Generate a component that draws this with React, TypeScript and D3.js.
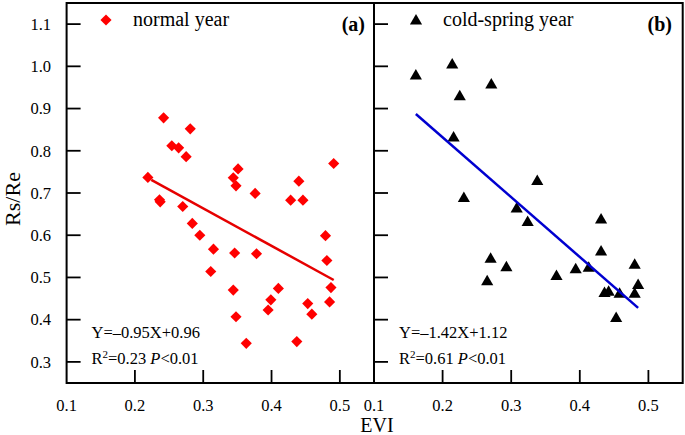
import React from "react";
import * as d3 from "d3";

const normalEVI = [0.219, 0.242, 0.254, 0.264, 0.275, 0.281, 0.236, 0.237, 0.27, 0.344, 0.351, 0.348, 0.376, 0.428, 0.44, 0.446, 0.491, 0.284, 0.295, 0.315, 0.311, 0.346, 0.344, 0.348, 0.363, 0.378, 0.399, 0.395, 0.41, 0.437, 0.453, 0.459, 0.479, 0.481, 0.487, 0.485];
const normalRatio = [0.737, 0.878, 0.812, 0.807, 0.786, 0.852, 0.684, 0.679, 0.668, 0.736, 0.757, 0.717, 0.699, 0.683, 0.728, 0.683, 0.77, 0.628, 0.6, 0.567, 0.514, 0.558, 0.47, 0.407, 0.344, 0.556, 0.447, 0.423, 0.474, 0.348, 0.438, 0.413, 0.599, 0.54, 0.476, 0.442];

const coldEVI = [0.161, 0.214, 0.225, 0.271, 0.216, 0.338, 0.231, 0.308, 0.324, 0.431, 0.431, 0.27, 0.293, 0.265, 0.366, 0.394, 0.413, 0.436, 0.442, 0.458, 0.453, 0.48, 0.485, 0.48];
const coldRatio = [0.977, 1.003, 0.928, 0.956, 0.83, 0.727, 0.687, 0.662, 0.63, 0.636, 0.56, 0.543, 0.523, 0.49, 0.502, 0.518, 0.522, 0.462, 0.465, 0.46, 0.403, 0.529, 0.481, 0.46];

const normalFitX = [0.224, 0.491];
const normalFitY = [0.731, 0.494];
const coldFitX = [0.161, 0.485];
const coldFitY = [0.887, 0.428];

const xTicks = [0.1, 0.2, 0.3, 0.4, 0.5];
const yTicks = [0.3, 0.4, 0.5, 0.6, 0.7, 0.8, 0.9, 1.0, 1.1];

const FONT = "'Liberation Serif', 'Times New Roman', serif";

export default function App() {
  const y = d3.scaleLinear().domain([0.25, 1.15]).range([383, 3]);
  const xA = d3.scaleLinear().domain([0.1, 0.55]).range([66.6, 374]);
  const xB = d3.scaleLinear().domain([0.1, 0.55]).range([374, 682.7]);

  const diamond = d3.symbol().type(d3.symbolSquare).size(62)()!;
  const triangle = d3.symbol().type(d3.symbolTriangle).size(64)()!;
  const line = d3.line<[number, number]>();

  const fitA: [number, number][] = normalFitX.map((v, i) => [xA(v), y(normalFitY[i])]);
  const fitB: [number, number][] = coldFitX.map((v, i) => [xB(v), y(coldFitY[i])]);

  const panel = (x: d3.ScaleLinear<number, number>, key: string) => (
    <g key={key}>
      {yTicks.map((t) => (
        <line key={"y" + t} x1={x.range()[0]} x2={x.range()[0] + 14} y1={y(t)} y2={y(t)} stroke="#000" strokeWidth={1.8} />
      ))}
      {xTicks.slice(1).map((t) => (
        <line key={"x" + t} x1={x(t)} x2={x(t)} y1={383} y2={370} stroke="#000" strokeWidth={1.8} />
      ))}
      {xTicks.map((t) => (
        <text key={"xl" + t} x={x(t)} y={411} textAnchor="middle" fontSize={16.5} fontFamily={FONT}>
          {t.toFixed(1)}
        </text>
      ))}
    </g>
  );

  return (
    <svg width={685} height={435} style={{ position: "absolute", left: 0, top: 0, display: "block", background: "#fff" }}>
      <rect x={0} y={0} width={685} height={435} fill="#fff" />
      {panel(xA, "a")}
      {panel(xB, "b")}
      {yTicks.map((t) => (
        <text key={"yl" + t} x={51} y={y(t)} dy="0.35em" textAnchor="end" fontSize={16.5} fontFamily={FONT}>
          {t.toFixed(1)}
        </text>
      ))}

      {normalEVI.map((v, i) => (
        <path key={"n" + i} d={diamond} transform={`translate(${xA(v)},${y(normalRatio[i])}) rotate(45)`} fill="#ff0000" />
      ))}
      <path d={line(fitA)!} stroke="#e60000" strokeWidth={2.5} fill="none" />

      {coldEVI.map((v, i) => (
        <path key={"c" + i} d={triangle} transform={`translate(${xB(v)},${y(coldRatio[i])})`} fill="#000" />
      ))}
      <path d={line(fitB)!} stroke="#0000d0" strokeWidth={2.5} fill="none" />

      <rect x={66.6} y={3} width={616.1} height={380} fill="none" stroke="#000" strokeWidth={2} />
      <line x1={374} x2={374} y1={3} y2={383} stroke="#000" strokeWidth={2} />

      {/* legends */}
      <path d={diamond} transform={`translate(106,20) rotate(45)`} fill="#ff0000" />
      <text x={133} y={26} fontSize={20} fontFamily={FONT}>normal year</text>
      <text x={365} y={31} textAnchor="end" fontSize={20} fontWeight="bold" fontFamily={FONT}>(a)</text>

      <path d={triangle} transform={`translate(416,21)`} fill="#000" />
      <text x={443} y={26} fontSize={20} fontFamily={FONT}>cold-spring year</text>
      <text x={672} y={31} textAnchor="end" fontSize={20} fontWeight="bold" fontFamily={FONT}>(b)</text>

      {/* equations */}
      <text x={91.5} y={338} fontSize={16.5} fontFamily={FONT}>Y=–0.95X+0.96</text>
      <text x={91.5} y={363.5} fontSize={16.5} fontFamily={FONT}>
        R<tspan dy={-6} fontSize={11}>2</tspan>
        <tspan dy={6}>=0.23 </tspan>
        <tspan fontStyle="italic">P</tspan>
        <tspan>&lt;0.01</tspan>
      </text>
      <text x={399} y={338} fontSize={16.5} fontFamily={FONT}>Y=–1.42X+1.12</text>
      <text x={399} y={363.5} fontSize={16.5} fontFamily={FONT}>
        R<tspan dy={-6} fontSize={11}>2</tspan>
        <tspan dy={6}>=0.61 </tspan>
        <tspan fontStyle="italic">P</tspan>
        <tspan>&lt;0.01</tspan>
      </text>

      {/* axis titles */}
      <text x={377} y={432} textAnchor="middle" fontSize={20} fontFamily={FONT}>EVI</text>
      <text transform="translate(20,199) rotate(-90)" textAnchor="middle" fontSize={22} fontFamily={FONT}>Rs/Re</text>
    </svg>
  );
}
